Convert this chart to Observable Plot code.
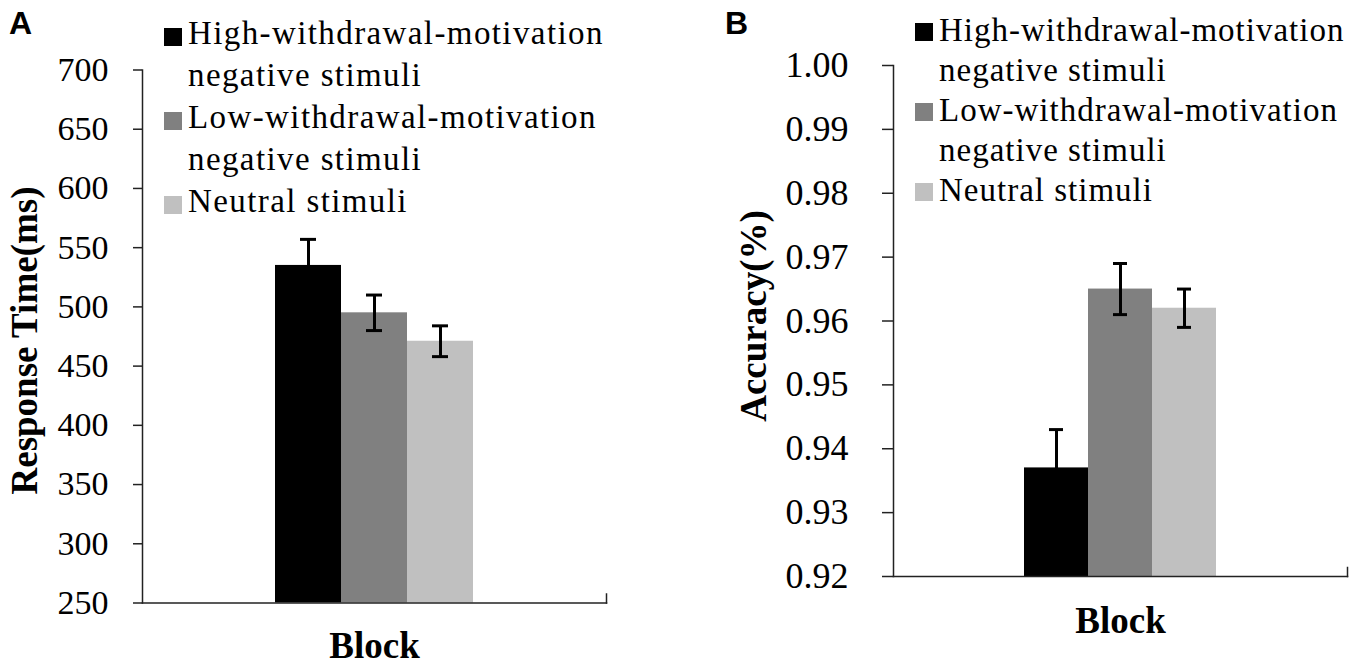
<!DOCTYPE html>
<html>
<head>
<meta charset="utf-8">
<script src="https://cdn.jsdelivr.net/npm/d3@7"></script>
<script src="https://cdn.jsdelivr.net/npm/@observablehq/plot@0.6"></script>
<style>
  html, body { margin: 0; padding: 0; background: white; }
  #wrap { position: relative; width: 1359px; height: 672px; background: white; overflow: hidden; }
  .panel { position: absolute; top: 0; width: 680px; height: 672px; }
  .letter { position: absolute; font-family: "Liberation Sans", Arial, sans-serif; font-weight: bold; font-size: 32px; line-height: 32px; color: black; }
  .legend { position: absolute; font-family: "Liberation Serif", "Times New Roman", serif; font-size: 33px; letter-spacing: 1px; color: black; white-space: nowrap; }
  .entry { position: relative; padding-left: 24px; }
  .swatch { position: absolute; left: 0; width: 18px; height: 18px; }
  svg text { font-family: "Liberation Serif", "Times New Roman", serif; }
</style>
</head>
<body>
<div id="wrap">
  <div class="panel" id="panelA" style="left:0px"></div>
  <div class="panel" id="panelB" style="left:680px"></div>
</div>
<script>
// ---- data ----
const series = [
  "High-withdrawal-motivation negative stimuli",
  "Low-withdrawal-motivation negative stimuli",
  "Neutral stimuli"
];
const legendLines = [
  ["High-withdrawal-motivation", "negative stimuli"],
  ["Low-withdrawal-motivation", "negative stimuli"],
  ["Neutral stimuli"]
];
const colors = ["#000000", "#808080", "#c0c0c0"];
const rtMeans = [535, 495, 471];
const rtErrors = [22, 15, 13];
const accMeans = [0.937, 0.965, 0.962];
const accErrors = [0.006, 0.004, 0.003];
const rtTicks = [250, 300, 350, 400, 450, 500, 550, 600, 650, 700];
const accTicks = [0.92, 0.93, 0.94, 0.95, 0.96, 0.97, 0.98, 0.99, 1.00];
const xLabel = "Block";
const rtLabel = "Response Time(ms)";
const accLabel = "Accuracy(%)";

const serif = "'Liberation Serif', 'Times New Roman', serif";
const axisColor = "#222";
const W = 680, H = 672;

function panel(o) {
  const rows = series.map((s, i) => ({series: s, mean: o.means[i], err: o.errors[i]}));
  const y0 = o.ticks[0], y1 = o.ticks[o.ticks.length - 1];
  const frameH = H - o.mt - o.mb;
  return Plot.plot({
    width: W, height: H,
    marginLeft: o.ml, marginRight: o.mr, marginTop: o.mt, marginBottom: o.mb,
    style: {fontFamily: serif, background: "white", color: "black", overflow: "visible"},
    x: {domain: series, paddingInner: 0, paddingOuter: 2, axis: null},
    y: {domain: [y0, y1], axis: null},
    color: {domain: series, range: colors},
    marks: [
      Plot.barY(rows, {x: "series", y1: y0, y2: "mean", fill: "series"}),
      Plot.ruleX(rows, {x: "series", y1: d => d.mean - d.err, y2: d => d.mean + d.err, stroke: "black", strokeWidth: 3}),
      Plot.tickY(rows, {x: "series", y: d => d.mean + d.err, stroke: "black", strokeWidth: 3, insetLeft: 25, insetRight: 25}),
      Plot.tickY(rows, {x: "series", y: d => d.mean - d.err, stroke: "black", strokeWidth: 3, insetLeft: 25, insetRight: 25}),
      Plot.frame({anchor: "left", stroke: axisColor, strokeWidth: 1.5}),
      Plot.frame({anchor: "bottom", stroke: axisColor, strokeWidth: 1.5}),
      Plot.frame({anchor: "right", insetTop: frameH - 9, stroke: axisColor, strokeWidth: 1.5}),
      Plot.axisY({ticks: o.ticks, tickFormat: o.fmt, tickSize: o.tickSize, tickPadding: o.tickPadding,
                  fontSize: o.tickFont, fontFamily: serif,
                  stroke: axisColor, strokeWidth: 1.5, fill: "black", label: null}),
      Plot.text([o.yLabel], {frameAnchor: "left", rotate: -90, text: d => d, textAnchor: "middle",
                  lineAnchor: "bottom", dx: o.yLabelDx, dy: o.yLabelDy, fontSize: 37, fontWeight: "bold",
                  fontFamily: serif, fill: "black"}),
      Plot.text([xLabel], {frameAnchor: "bottom", text: d => d, textAnchor: "middle", lineAnchor: "bottom",
                  dy: o.blockDy, fontSize: 37, fontWeight: "bold", fontFamily: serif, fill: "black"})
    ]
  });
}

function legend(container, o) {
  const lg = document.createElement("div");
  lg.className = "legend";
  lg.style.left = o.left + "px";
  lg.style.top = o.top + "px";
  lg.style.lineHeight = o.lineHeight + "px";
  lg.style.letterSpacing = o.spacing + "px";
  legendLines.forEach((lines, i) => {
    const e = document.createElement("div");
    e.className = "entry";
    const sw = document.createElement("div");
    sw.className = "swatch";
    sw.style.background = colors[i];
    sw.style.top = o.swatchTop + "px";
    e.appendChild(sw);
    lines.forEach(t => {
      const l = document.createElement("div");
      l.textContent = t;
      e.appendChild(l);
    });
    lg.appendChild(e);
  });
  container.appendChild(lg);
}

function letter(container, t, left, top) {
  const d = document.createElement("div");
  d.className = "letter";
  d.textContent = t;
  d.style.left = left + "px";
  d.style.top = top + "px";
  container.appendChild(d);
}

const A = document.getElementById("panelA");
A.appendChild(panel({
  means: rtMeans, errors: rtErrors, ticks: rtTicks, fmt: d3.format("d"),
  ml: 142, mr: 74, mt: 69.5, mb: 69.5,
  tickSize: 9, tickPadding: 25, tickFont: 34,
  yLabel: rtLabel, yLabelDx: -106, yLabelDy: 4, blockDy: 55
}));
legend(A, {left: 164, top: 12, lineHeight: 42, swatchTop: 16, spacing: 1.4});
letter(A, "A", 9, 7);

const B = document.getElementById("panelB");
B.appendChild(panel({
  means: accMeans, errors: accErrors, ticks: accTicks, fmt: d3.format(".2f"),
  ml: 213, mr: 13, mt: 65, mb: 96,
  tickSize: 11, tickPadding: 34, tickFont: 36,
  yLabel: accLabel, yLabelDx: -128, yLabelDy: -5, blockDy: 56
}));
legend(B, {left: 235, top: 10, lineHeight: 40, swatchTop: 13, spacing: 1});
letter(B, "B", 45, 7);
</script>
</body>
</html>
